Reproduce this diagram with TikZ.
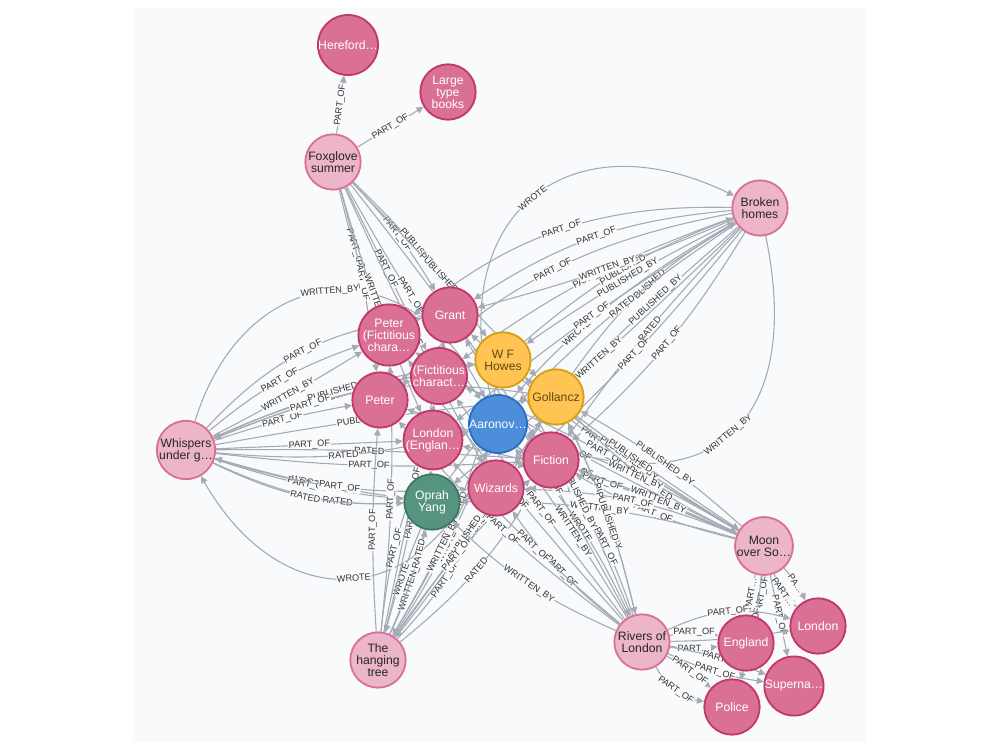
\documentclass[tikz,border=0pt]{standalone}
\usepackage{fontspec}
\setmainfont{Liberation Sans}
\usetikzlibrary{arrows.meta}
\definecolor{canvas}{HTML}{F9FAFB}
\definecolor{edgegray}{HTML}{A5ABB6}
\definecolor{lbltext}{HTML}{333333}
\definecolor{bookfill}{HTML}{ECB5C9}
\definecolor{bookline}{HTML}{DA7194}
\definecolor{subjfill}{HTML}{DA7194}
\definecolor{subjline}{HTML}{C2386A}
\definecolor{pubfill}{HTML}{FFC454}
\definecolor{publine}{HTML}{D7A013}
\definecolor{pubtext}{HTML}{604A0E}
\definecolor{authfill}{HTML}{4C8EDA}
\definecolor{authline}{HTML}{2870C2}
\definecolor{readfill}{HTML}{569480}
\definecolor{readline}{HTML}{447666}
\pgfdeclarelayer{paper}
\pgfdeclarelayer{edges}
\pgfsetlayers{paper,edges,main}
\tikzstyle{every node}+=[inner sep=0pt]
\tikzstyle{ball} = [circle, minimum size=16.6mm, line width=0.55mm, align=center, font=\fontsize{10.4}{10.2}\selectfont]
\tikzstyle{book} = [ball, draw=bookline, fill=bookfill, text=black!85]
\tikzstyle{subject} = [ball, draw=subjline, fill=subjfill, text=white]
\tikzstyle{publisher} = [ball, draw=publine, fill=pubfill, text=pubtext]
\tikzstyle{author} = [ball, draw=authline, fill=authfill, text=white]
\tikzstyle{reader} = [ball, draw=readline, fill=readfill, text=white]
\tikzstyle{rel} = [draw=edgegray, line width=0.33mm, -{Triangle[length=2.1mm, width=2mm]}, edgegray]
\tikzstyle{lbl} = [midway, sloped, font=\fontsize{7.8}{7.8}\selectfont, fill=canvas, text=lbltext, inner sep=0.5pt]
\begin{document}
\begin{tikzpicture}[x=0.3mm, y=0.3mm]
  \useasboundingbox (0,0) rectangle (1000,-750);
  \begin{pgfonlayer}{paper}
    \fill [white] (0,0) rectangle (1000,-750);
    \fill [canvas] (133,-8) rectangle (866,-742);
  \end{pgfonlayer}
  % Place nodes
  \node [subject] (her) at (348,-45) {Hereford…};
  \node [subject] (ltb) at (448,-92) {Large\\type\\books};
  \node [book] (fox) at (333,-162) {Foxglove\\summer};
  \node [book] (bh) at (760,-208) {Broken\\homes};
  \node [subject] (grant) at (450,-315) {Grant};
  \node [subject] (pf) at (389,-335) {Peter\\(Fictitious\\chara…};
  \node [publisher] (wfh) at (503,-360) {W F\\Howes};
  \node [subject] (fc) at (439,-376) {(Fictitious\\charact…};
  \node [publisher] (gol) at (556,-397) {Gollancz};
  \node [subject] (pet) at (380,-400) {Peter};
  \node [author] (aar) at (498,-424) {Aaronov…};
  \node [subject] (le) at (433,-440) {London\\(Englan…};
  \node [subject] (fic) at (551,-460) {Fiction};
  \node [book] (wh) at (186,-450) {Whispers\\under g…};
  \node [subject] (wiz) at (496,-488) {Wizards};
  \node [reader] (opr) at (432,-502) {Oprah\\Yang};
  \node [book] (mo) at (764,-546) {Moon\\over So…};
  \node [book] (rv) at (642,-642) {Rivers of\\London};
  \node [subject] (eng) at (746,-643) {England};
  \node [subject] (lon) at (818,-626) {London};
  \node [subject] (sup) at (794,-686) {Superna…};
  \node [subject] (pol) at (732,-707) {Police};
  \node [book] (ht) at (378,-660) {The\\hanging\\tree};
  % Draw edges
  \begin{pgfonlayer}{edges}
    \path [rel] (aar) to[bend left=65, looseness=1.5] node[lbl] {WROTE} (bh);
    \path [rel] (bh) to[bend left=62, looseness=1.6] node[lbl] {WRITTEN\_BY} (aar);
    \path [rel] (wh) to[bend left=68, looseness=1.5] node[lbl] {WRITTEN\_BY} (aar);
    \path [rel] (aar) to[bend left=65, looseness=1.5] node[lbl] {WROTE} (wh);
    % Foxglove summer
    \foreach \a/\b/\l/\n in {fox/her/PART\_OF/0, fox/ltb/PART\_OF/0, fox/grant/PART\_OF/6,
      fox/wfh/PUBLISHED\_BY/5, fox/gol/PUBLISHED\_BY/0, fox/aar/PART\_OF/-3,
      fox/pf/PART\_OF/-5, fox/pet/PART\_OF/4, fox/fc/PART\_OF/0,
      fox/le/WRITTEN\_BY/-4, fox/wiz/PART\_OF/-2, fox/fic/PART\_OF/2}
      \path [rel] (\a) to[bend left=\n] node[lbl] {\l} (\b);
    % Broken homes
    \foreach \a/\b/\l/\n in {bh/grant/PART\_OF/-14, bh/pf/PART\_OF/-20, bh/pet/PART\_OF/-16,
      bh/fc/PART\_OF/-8, opr/bh/WROTE/12, wfh/bh/PUBLISHED/10, bh/wfh/PUBLISHED\_BY/-4,
      gol/bh/PUBLISHED/12, bh/gol/PUBLISHED\_BY/-2, bh/le/PART\_OF/-4,
      bh/fic/RATED/-4, bh/fic/PART\_OF/8, bh/wiz/PART\_OF/4, bh/opr/WRITTEN\_BY/2,
      bh/aar/RATED/-6, bh/grant/WRITTEN\_BY/4}
      \path [rel] (\a) to[bend left=\n] node[lbl] {\l} (\b);
    % Whispers under gunfire
    \foreach \a/\b/\l/\n in {wh/grant/PART\_OF/20, gol/wh/PUBLISHED/-16, wh/pf/PART\_OF/10,
      wh/pf/WRITTEN\_BY/-2, wfh/wh/PUBLISHED/-6, wh/wfh/PUBLISHED\_BY/8,
      wh/pet/PART\_OF/4, wh/fc/PART\_OF/6, wh/le/PART\_OF/0, wh/fic/RATED/2,
      wh/fic/PART\_OF/-5, opr/wh/WROTE/4, wh/opr/PART\_OF/-6, wh/wiz/PART\_OF/-10,
      wh/gol/PUBLISHED\_BY/2, wh/aar/RATED/-10, wh/wiz/RATED/-18, wh/opr/RATED/-14}
      \path [rel] (\a) to[bend left=\n] node[lbl] {\l} (\b);
    % The hanging tree
    \foreach \a/\b/\l/\n in {ht/opr/WRITTEN\_BY/-6, opr/ht/WROTE/-4, ht/le/PART\_OF/8,
      ht/pet/PART\_OF/4, ht/pf/PART\_OF/-4, ht/fc/PART\_OF/-2, ht/grant/PART\_OF/0,
      ht/wiz/PART\_OF/-8, aar/ht/WROTE/6, gol/ht/PUBLISHED/4, ht/gol/PUBLISHED\_BY/-2,
      wfh/ht/PUBLISHED/8, ht/fic/RATED/-10, ht/fic/PART\_OF/6, ht/aar/WRITTEN\_BY/-4,
      ht/le/RATED/-10}
      \path [rel] (\a) to[bend left=\n] node[lbl] {\l} (\b);
    % Moon over Soho
    \foreach \a/\b/\l/\n in {mo/grant/PART\_OF/6, mo/pf/PART\_OF/4, mo/fc/PART\_OF/-4,
      mo/pet/PART\_OF/-2, mo/le/PART\_OF/-6, mo/wfh/PUBLISHED\_BY/4, wfh/mo/PUBLISHED/-2,
      gol/mo/PUBLISHED/-10, mo/gol/PUBLISHED\_BY/-6, mo/fic/PART\_OF/8,
      mo/fic/WRITTEN\_BY/-2, mo/aar/WRITTEN\_BY/-6, mo/wiz/PART\_OF/-10,
      mo/opr/WRITTEN\_BY/-8, mo/lon/PART…/-14, mo/lon/PA…/8, mo/eng/PART\_OF/10,
      mo/eng/PART…/-6, mo/sup/PART\_OF/0, mo/pol/PART\_OF/6}
      \path [rel] (\a) to[bend left=\n] node[lbl] {\l} (\b);
    % Rivers of London
    \foreach \a/\b/\l/\n in {rv/fic/PART\_OF/-8, rv/gol/PUBLISHED\_BY/-6, gol/rv/PUBLISHED/6,
      rv/wfh/PUBLISHED\_BY/-4, rv/aar/WRITTEN\_BY/-2, aar/rv/WROTE/8, rv/wiz/PART\_OF/8,
      rv/le/PART\_OF/4, rv/pet/PART\_OF/6, rv/pf/PART\_OF/2, rv/fc/PART\_OF/0,
      rv/grant/PART\_OF/-2, rv/opr/WRITTEN\_BY/10, rv/eng/PART\_OF/14, rv/eng/PART…/-8,
      rv/lon/PART\_OF/20, rv/lon/PART/-4, rv/sup/PART\_OF/-8, rv/sup/PART…/6,
      rv/pol/PART\_OF/-25, rv/pol/PART\_OF/6}
      \path [rel] (\a) to[bend left=\n] node[lbl] {\l} (\b);
  \end{pgfonlayer}
\end{tikzpicture}
\end{document}
